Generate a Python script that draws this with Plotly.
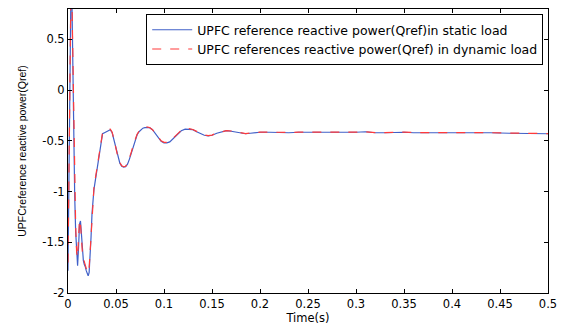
import plotly.graph_objects as go

time_s = [0, 0.001, 0.002, 0.003, 0.004, 0.005, 0.006, 0.007, 0.008, 0.009,
          0.010, 0.011, 0.012, 0.013, 0.014, 0.015, 0.016, 0.017, 0.018, 0.019,
          0.020, 0.021, 0.022, 0.023, 0.024, 0.025, 0.026, 0.027, 0.028, 0.030,
          0.032, 0.034, 0.036, 0.038, 0.040, 0.042, 0.044, 0.046, 0.048, 0.050,
          0.052, 0.054, 0.056, 0.058, 0.060, 0.062, 0.064, 0.066, 0.068, 0.070,
          0.072, 0.074, 0.076, 0.078, 0.080, 0.082, 0.085, 0.088, 0.091, 0.094,
          0.097, 0.100, 0.103, 0.106, 0.110, 0.114, 0.118, 0.122, 0.126, 0.130,
          0.134, 0.138, 0.142, 0.146, 0.150, 0.155, 0.160, 0.165, 0.170, 0.175,
          0.180, 0.185, 0.190, 0.195, 0.200, 0.21, 0.22, 0.23, 0.24, 0.25,
          0.26, 0.27, 0.28, 0.29, 0.30, 0.31, 0.32, 0.33, 0.34, 0.35,
          0.36, 0.37, 0.38, 0.40, 0.42, 0.44, 0.46, 0.48, 0.50]

q_static = [-1.78, -0.8, 0.3, 0.95, 0.95, 0.15, -0.55, -1.05, -1.4, -1.62,
            -1.73, -1.55, -1.32, -1.29, -1.42, -1.58, -1.68, -1.72, -1.74, -1.78,
            -1.82, -1.83, -1.8, -1.65, -1.45, -1.22, -1.05, -0.98, -0.92, -0.8,
            -0.65, -0.52, -0.43, -0.42, -0.41, -0.395, -0.39, -0.42, -0.5, -0.59,
            -0.67, -0.72, -0.75, -0.76, -0.755, -0.73, -0.68, -0.62, -0.55, -0.49,
            -0.44, -0.41, -0.39, -0.375, -0.37, -0.367, -0.37, -0.39, -0.43, -0.47,
            -0.505, -0.52, -0.52, -0.51, -0.47, -0.43, -0.40, -0.385, -0.385, -0.39,
            -0.41, -0.43, -0.445, -0.45, -0.445, -0.425, -0.41, -0.40, -0.405, -0.415,
            -0.425, -0.43, -0.425, -0.42, -0.415, -0.415, -0.42, -0.42, -0.415, -0.415,
            -0.42, -0.415, -0.415, -0.42, -0.415, -0.41, -0.42, -0.42, -0.415, -0.415,
            -0.42, -0.42, -0.415, -0.42, -0.42, -0.42, -0.425, -0.425, -0.43]

q_dynamic = [-1.7, -0.7, 0.4, 0.95, 0.95, 0.3, -0.4, -0.95, -1.35, -1.6,
             -1.65, -1.45, -1.28, -1.32, -1.48, -1.6, -1.66, -1.7, -1.73, -1.76,
             -1.79, -1.8, -1.75, -1.6, -1.42, -1.2, -1.03, -0.97, -0.9, -0.78,
             -0.63, -0.5, -0.42, -0.41, -0.4, -0.385, -0.385, -0.415, -0.49, -0.58,
             -0.66, -0.715, -0.745, -0.755, -0.75, -0.725, -0.675, -0.61, -0.54, -0.48,
             -0.435, -0.405, -0.385, -0.37, -0.365, -0.363, -0.368, -0.39, -0.425, -0.465,
             -0.5, -0.515, -0.515, -0.505, -0.465, -0.425, -0.395, -0.38, -0.38, -0.388,
             -0.408, -0.428, -0.443, -0.448, -0.443, -0.423, -0.408, -0.40, -0.403, -0.413,
             -0.423, -0.428, -0.423, -0.418, -0.414, -0.414, -0.418, -0.418, -0.414, -0.414,
             -0.418, -0.414, -0.414, -0.418, -0.414, -0.41, -0.418, -0.418, -0.414, -0.414,
             -0.418, -0.418, -0.414, -0.418, -0.418, -0.42, -0.423, -0.425, -0.428]

series_names = ["UPFC reference reactive power(Qref)in static load",
                "UPFC references reactive power(Qref) in dynamic load"]

x_ticks = [0, 0.05, 0.1, 0.15, 0.2, 0.25, 0.3, 0.35, 0.4, 0.45, 0.5]
x_tick_labels = ["0", "0.05", "0.1", "0.15", "0.2", "0.25", "0.3", "0.35", "0.4", "0.45", "0.5"]
y_ticks = [-2, -1.5, -1, -0.5, 0, 0.5]
y_tick_labels = ["-2", "-1.5", "-1", "-0.5", "0", "0.5"]

FONT = "DejaVu Sans, Verdana, sans-serif"

fig = go.Figure()
fig.add_trace(go.Scatter(x=time_s, y=q_static, mode="lines", name=series_names[0],
                         line=dict(color="#4060c8", width=1.2)))
fig.add_trace(go.Scatter(x=time_s, y=q_dynamic, mode="lines", name=series_names[1],
                         line=dict(color="#ff3a3a", width=1.2, dash="dash")))

axis_common = dict(showline=True, linecolor="black", linewidth=1, mirror="ticks",
                   ticks="inside", ticklen=4, tickcolor="black", showgrid=False,
                   zeroline=False, tickfont=dict(family=FONT, size=11.5, color="black"))

fig.update_layout(
    width=565, height=327,
    margin=dict(l=68, r=17, t=8, b=33),
    paper_bgcolor="white", plot_bgcolor="white",
    font=dict(family=FONT, size=11.5, color="black"),
    xaxis=dict(range=[0, 0.5], tickvals=x_ticks, ticktext=x_tick_labels,
               title=dict(text="Time(s)", font=dict(size=11.5), standoff=0), **axis_common),
    yaxis=dict(range=[-2, 0.8], tickvals=y_ticks, ticktext=y_tick_labels,
               title=dict(text="UPFCreference reactive power(Qref)",
                          font=dict(family="Liberation Sans, Arial", size=10.5), standoff=13),
               **axis_common),
    legend=dict(x=0.99, y=0.982, xanchor="right", yanchor="top",
                bgcolor="white", bordercolor="black", borderwidth=1,
                font=dict(size=12.5), tracegroupgap=0, itemwidth=40),
    showlegend=True,
)

fig.write_html("out.html")
